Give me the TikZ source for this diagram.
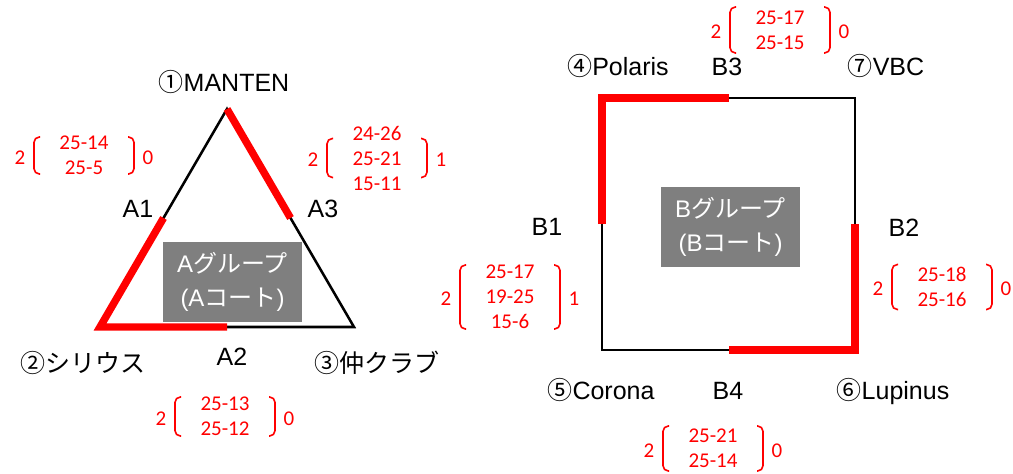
\documentclass[tikz,border=0pt]{standalone}
\usepackage{fontspec}
\setmainfont{Liberation Sans}
\newfontfamily\jpfont{Noto Sans CJK JP}
\newfontfamily\scorefont{Carlito}
\usetikzlibrary{calc}
\definecolor{courtgray}{RGB}{127,127,127}
\definecolor{winred}{RGB}{255,0,0}
\tikzset{
  team/.style={font=\fontsize{18.75}{22}\selectfont, anchor=base, inner sep=0pt},
  score/.style={text=winred, font=\scorefont\fontsize{15.75}{18.75}\selectfont, align=center, inner sep=0pt},
  sets/.style={text=winred, font=\scorefont\fontsize{15.75}{18.75}\selectfont, inner sep=0pt},
  court/.style={fill=courtgray, text=white, font=\fontsize{18}{25.5}\selectfont, align=center, inner sep=0pt, minimum width=104pt, minimum height=60pt},
  edge/.style={line width=1.9pt},
  win/.style={draw=winred, line width=5.6pt},
  paren/.style={draw=winred, line width=1.2pt, rounded corners=4pt},
}
\newcommand{\jp}[1]{{\jpfont #1}}
% #1 name, #2 centre, #3 half height, #4 left sets, #5 scores, #6 right sets
\newcommand{\matchresult}[6]{%
  \node[score] (#1) at (#2) {#5};
  \node[sets] (#1-l) at ($(#1)+(-64,2)$) {#4};
  \node[sets] (#1-r) at ($(#1)+(64,2)$) {#6};
  \draw[paren] ($(#1)+(-44,-#3)$) -- ($(#1)+(-50,-#3)$) -- ($(#1)+(-50,#3)$) -- ($(#1)+(-44,#3)$);
  \draw[paren] ($(#1)+(44,-#3)$) -- ($(#1)+(50,-#3)$) -- ($(#1)+(50,#3)$) -- ($(#1)+(44,#3)$);
}

\begin{document}
\begin{tikzpicture}[x=0.75pt, y=-0.75pt]
  \useasboundingbox (0,0) rectangle (1013,474);

  % A court
  \coordinate (a-top) at (227,109);
  \coordinate (a-left) at (100,327);
  \coordinate (a-right) at (354,327);
  \coordinate (a1) at ($(a-top)!0.5!(a-left)$);
  \coordinate (a2) at ($(a-left)!0.5!(a-right)$);
  \coordinate (a3) at ($(a-top)!0.5!(a-right)$);
  \draw[edge] (a-top) -- (a-left) -- (a-right) -- cycle;
  \draw[win] (a-top) -- (a3);
  \draw[win] (a1) -- (a-left) -- (a2);
  \node[court] (courtA) at (232.5,282) {A\jp{グループ}\\(A\jp{コート})};

  \node[team] (manten) at (224,92) {\jp{①}MANTEN};
  \node[team] (sirius) at (83,372) {\jp{②シリウス}};
  \node[team] (naka) at (377,372) {\jp{③仲クラブ}};
  \node[team] (A1) at (138,217) {A1};
  \node[team] (A3) at (323,217) {A3};
  \node[team] (A2) at (232,365) {A2};

  \matchresult{resA1}{84,155.5}{18.5}{2}{25-14\\25-5}{0}
  \matchresult{resA3}{377,158}{19.5}{2}{24-26\\25-21\\15-11}{1}
  \matchresult{resA2}{225,416.5}{19.5}{2}{25-13\\25-12}{0}

  % B court
  \coordinate (b-tl) at (602,98);
  \coordinate (b-tr) at (855,98);
  \coordinate (b-br) at (855,350);
  \coordinate (b-bl) at (602,350);
  \coordinate (b1) at ($(b-tl)!0.5!(b-bl)$);
  \coordinate (b2) at ($(b-tr)!0.5!(b-br)$);
  \coordinate (b3) at ($(b-tl)!0.5!(b-tr)$);
  \coordinate (b4) at ($(b-bl)!0.5!(b-br)$);
  \draw[edge] (b-tl) -- (b-tr) -- (b-br) -- (b-bl) -- cycle;
  \draw[win] (b1) -- (b-tl) -- (b3);
  \draw[win] (b2) -- (b-br) -- (b4);
  \node[court] (courtB) at (730.5,227) {B\jp{グループ}\\(B\jp{コート})};

  \node[team] (polaris) at (618,76) {\jp{④}Polaris};
  \node[team] (vbc) at (886,76) {\jp{⑦}VBC};
  \node[team] (corona) at (601,399) {\jp{⑤}Corona};
  \node[team] (lupinus) at (893,399) {\jp{⑥}Lupinus};
  \node[team] (B1) at (547,235) {B1};
  \node[team] (B2) at (904,236) {B2};
  \node[team] (B3) at (727,76) {B3};
  \node[team] (B4) at (728,399) {B4};

  \matchresult{resB3}{780,30}{23}{2}{25-17\\25-15}{0}
  \matchresult{resB1}{510,297}{32}{2}{25-17\\19-25\\15-6}{1}
  \matchresult{resB2}{942,287}{22.5}{2}{25-18\\25-16}{0}
  \matchresult{resB4}{713,448.5}{22.5}{2}{25-21\\25-14}{0}
\end{tikzpicture}
\end{document}
